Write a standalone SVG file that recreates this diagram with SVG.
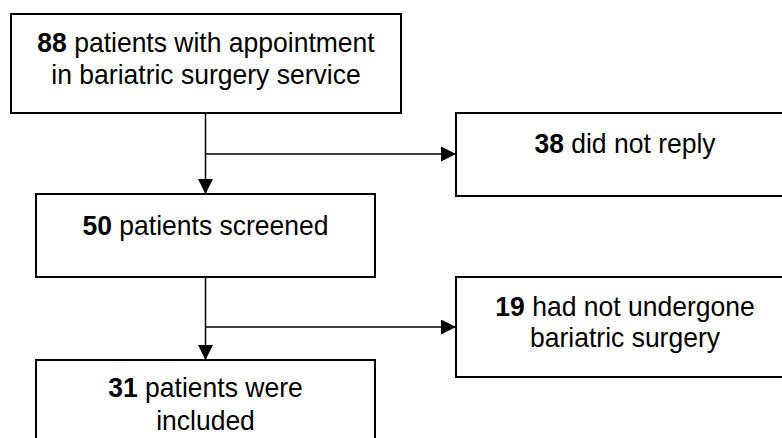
<svg xmlns="http://www.w3.org/2000/svg" width="782" height="438" viewBox="0 0 782 438">
<style>
.box{fill:#fff;stroke:#000;stroke-width:2}
.t{font-family:"Liberation Sans",Arial,sans-serif;font-size:28px;fill:#000;text-anchor:middle}
.b{font-weight:bold}
.c{fill:none;stroke:#000;stroke-width:1.5}
</style>
<defs>
<marker id="ah" viewBox="0 0 15 15" refX="15" refY="7.5" markerWidth="15" markerHeight="15" markerUnits="userSpaceOnUse" orient="auto">
<path d="M0,0 L15,7.5 L0,15 Z" fill="#000"/>
</marker>
</defs>
<rect width="782" height="438" fill="#fff"/>
<g id="connectors">
<path class="c" d="M205.5,113 V194" marker-end="url(#ah)"/>
<path class="c" d="M205.5,154 H456" marker-end="url(#ah)"/>
<path class="c" d="M205.5,277 V360" marker-end="url(#ah)"/>
<path class="c" d="M205.5,327 H456" marker-end="url(#ah)"/>
</g>
<g id="n88">
<rect class="box" x="11" y="14" width="390" height="99"/>
<text class="t" transform="translate(206,52) scale(0.947,1)"><tspan class="b">88</tspan> patients with appointment</text>
<text class="t" transform="translate(206,84) scale(0.947,1)">in bariatric surgery service</text>
</g>
<g id="n38">
<rect class="box" x="456" y="113" width="338" height="83"/>
<text class="t" transform="translate(625,153) scale(0.947,1)"><tspan class="b">38</tspan> did not reply</text>
</g>
<g id="n50">
<rect class="box" x="36" y="194" width="339" height="83"/>
<text class="t" transform="translate(205.5,235) scale(0.947,1)"><tspan class="b">50</tspan> patients screened</text>
</g>
<g id="n19">
<rect class="box" x="456" y="277" width="338" height="100"/>
<text class="t" transform="translate(625,316) scale(0.947,1)"><tspan class="b">19</tspan> had not undergone</text>
<text class="t" transform="translate(625,347) scale(0.947,1)">bariatric surgery</text>
</g>
<g id="n31">
<rect class="box" x="36" y="360" width="339" height="100"/>
<text class="t" transform="translate(205.5,397) scale(0.947,1)"><tspan class="b">31</tspan> patients were</text>
<text class="t" transform="translate(205.5,430) scale(0.947,1)">included</text>
</g>
</svg>
